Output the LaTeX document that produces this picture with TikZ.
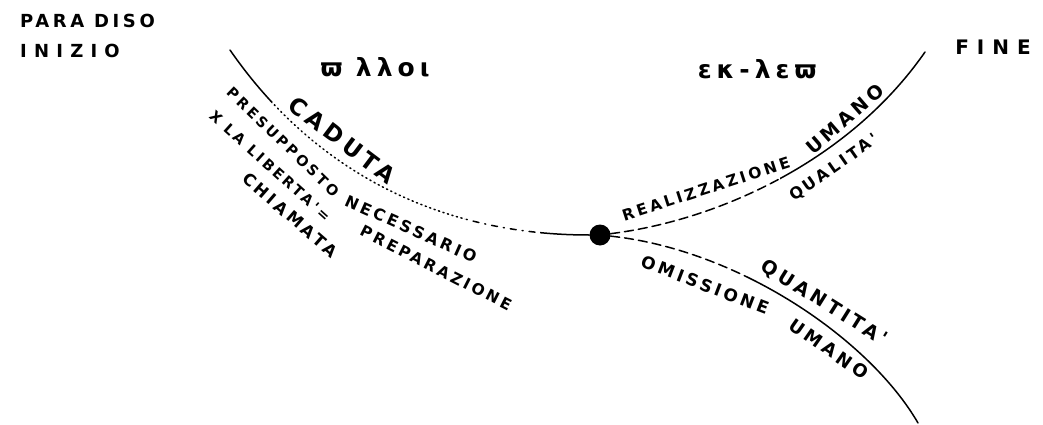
\documentclass[tikz,border=0pt]{standalone}
\usepackage{fontspec}
\usepackage{tikz}
\newfontfamily\handfont[LetterSpace=20]{DejaVu Sans}

\begin{document}
\begin{tikzpicture}[x=1pt,y=-1pt,
   scritta/.style={inner sep=0pt,font=\handfont\bfseries\fontsize{#1}{#1}\selectfont},
   linea/.style={line width=1.5pt,line cap=round},
   punti/.style={linea,dash pattern=on 1.2pt off 3.5pt},
   tratto/.style={linea,dash pattern=on 6pt off 6pt on 1pt off 6pt},
   trattini/.style={linea,dash pattern=on 9pt off 5pt}]
  \useasboundingbox (0,0) rectangle (1043,425);

  \node[circle,fill=black,minimum size=21pt,inner sep=0pt] (nodo) at (600,235) {};
  \coordinate (inizio) at (230,50);
  \coordinate (fine) at (925,52);
  \coordinate (fondo) at (918,423);

  % ramo di sinistra
  \begin{scope}
    \clip (0,0) rectangle (272,425);
    \draw[linea] (inizio) .. controls (320,180) and (450,235) .. (nodo);
  \end{scope}
  \begin{scope}
    \clip (272,0) rectangle (465,425);
    \draw[punti] (inizio) .. controls (320,180) and (450,235) .. (nodo);
  \end{scope}
  \begin{scope}
    \clip (465,0) rectangle (540,425);
    \draw[tratto] (inizio) .. controls (320,180) and (450,235) .. (nodo);
  \end{scope}
  \begin{scope}
    \clip (540,0) rectangle (600,425);
    \draw[linea] (inizio) .. controls (320,180) and (450,235) .. (nodo);
  \end{scope}

  % rami di destra
  \begin{scope}
    \clip (600,0) rectangle (780,425);
    \draw[trattini] (nodo) .. controls (720,220) and (850,160) .. (fine);
  \end{scope}
  \begin{scope}
    \clip (780,0) rectangle (1043,425);
    \draw[linea] (nodo) .. controls (720,220) and (850,160) .. (fine);
  \end{scope}
  \begin{scope}
    \clip (600,0) rectangle (750,425);
    \draw[trattini] (nodo) .. controls (740,250) and (870,340) .. (fondo);
  \end{scope}
  \begin{scope}
    \clip (750,0) rectangle (1043,425);
    \draw[linea] (nodo) .. controls (740,250) and (870,340) .. (fondo);
  \end{scope}

  \node[scritta=18,anchor=west] (paradiso) at (20,21) {PARA DISO};
  \node[scritta=18,anchor=west] (inizio-t) at (20,51) {\addfontfeature{LetterSpace=40}INIZIO};
  \node[scritta=25] (palai) at (375,67) {ϖ λλoι};
  \node[scritta=25] (eklex) at (757,69) {εκ-λεϖ};
  \node[scritta=20] (fine-t) at (993,47) {\addfontfeature{LetterSpace=40}FINE};

  \node[scritta=23,rotate=-37] (caduta) at (342,140) {CADUTA};
  \node[scritta=14.5,rotate=-44] (presup) at (283,142) {PRESUPPOSTO};
  \node[scritta=16,rotate=-24] (necess) at (411,229) {NECESSARIO};
  \node[scritta=14.5,rotate=-42] (liberta) at (270,166) {X LA LIBERTA'=};
  \node[scritta=15.5,rotate=-27] (prepar) at (436,268) {PREPARAZIONE};
  \node[scritta=16.5,rotate=-41] (chiamata) at (290,215) {CHIAMATA};

  \node[scritta=15.5,rotate=18] (realizz) at (706,189) {REALIZZAZIONE};
  \node[scritta=19,rotate=41] (umano-a) at (845,119) {UMANO};
  \node[scritta=16,rotate=35] (qualita) at (834,168) {QUALITA'};
  \node[scritta=19,rotate=-32] (quantita) at (824,303) {QUANTITA'};
  \node[scritta=17,rotate=-21] (omiss) at (705,285) {OMISSIONE};
  \node[scritta=18,rotate=-35] (umano-b) at (829,349) {UMANO};
\end{tikzpicture}
\end{document}
